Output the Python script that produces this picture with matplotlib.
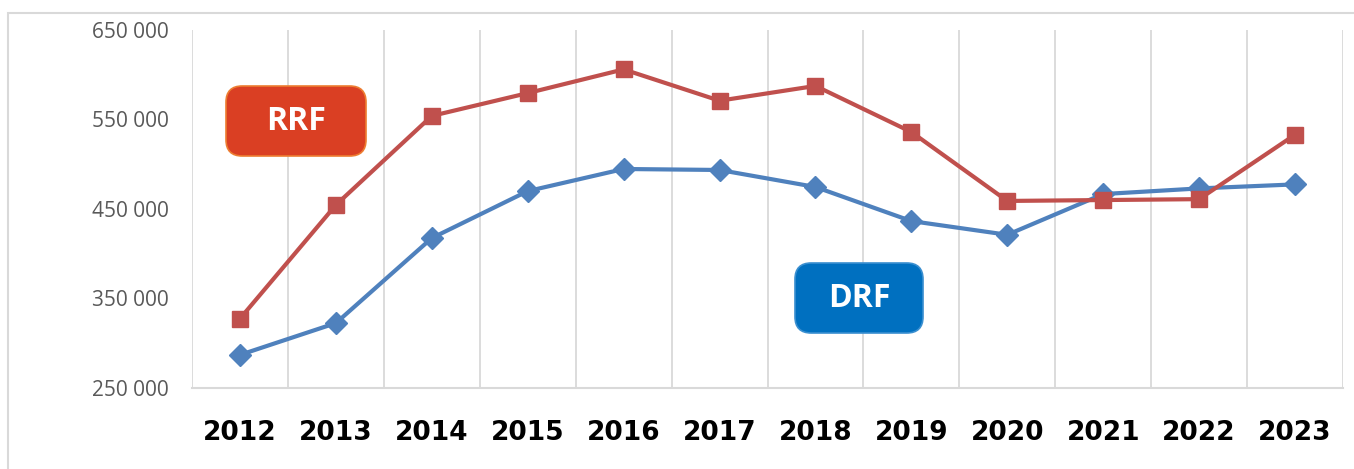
import matplotlib
matplotlib.use("Agg")
import matplotlib.pyplot as plt
from matplotlib.patches import FancyBboxPatch, Rectangle
from matplotlib.ticker import FuncFormatter, FixedLocator

years = ["2012", "2013", "2014", "2015", "2016", "2017", "2018", "2019", "2020", "2021", "2022", "2023"]
rrf = [327500, 454500, 554000, 579500, 606000, 571000, 587500, 536000, 459000, 460000, 461000, 533000]
drf = [287000, 322500, 417500, 470000, 494700, 493600, 474600, 436500, 421200, 466700, 473000, 477500]
yticks = [250000, 350000, 450000, 550000, 650000]

W, H = 1354, 469
fig = plt.figure(figsize=(W / 100, H / 100), dpi=100)

# outer chart frame
fig.patches.append(Rectangle((8 / W, -0.2), 2.0, 1 - 13 / H + 0.2, transform=fig.transFigure,
                             fill=False, edgecolor="#D9D9D9", linewidth=1.5, zorder=0))

ax = fig.add_axes([192 / W, 1 - 388 / H, (1343 - 192) / W, (388 - 30) / H])
x = list(range(len(years)))

ax.plot(x, drf, color="#4F81BD", linewidth=3, marker="D", markersize=11, zorder=3)
ax.plot(x, rrf, color="#C0504D", linewidth=3, marker="s", markersize=12, zorder=4)

ax.set_xlim(-0.5, len(years) - 0.5)
ax.set_ylim(yticks[0], yticks[-1])
ax.set_yticks(yticks)
ax.yaxis.set_major_formatter(FuncFormatter(lambda v, p: f"{int(v):,}".replace(",", " ")))
ax.set_xticks(x)
ax.set_xticklabels(years)
ax.xaxis.set_minor_locator(FixedLocator([i - 0.5 for i in range(len(years) + 1)]))
ax.grid(True, which="minor", axis="x", color="#D9D9D9", linewidth=1.3)
ax.grid(False, which="major")
ax.tick_params(axis="both", which="both", length=0)
ax.tick_params(axis="y", pad=17, labelsize=15, labelcolor="#595959")
ax.tick_params(axis="x", pad=23)
for lbl in ax.get_yticklabels():
    lbl.set_fontfamily("Open Sans")
for lbl in ax.get_xticklabels():
    lbl.set_fontfamily("DejaVu Sans")
    lbl.set_fontweight("bold")
    lbl.set_fontsize(19)
    lbl.set_color("black")

for s in ["top", "right", "left"]:
    ax.spines[s].set_visible(False)
ax.spines["bottom"].set_color("#D9D9D9")
ax.spines["bottom"].set_linewidth(1.5)


def label_box(x0, y0, x1, y1, text, face, edge):
    bx = FancyBboxPatch((x0 / W, 1 - y1 / H), (x1 - x0) / W, (y1 - y0) / H,
                        boxstyle="round,pad=0,rounding_size=0.012",
                        transform=fig.transFigure, facecolor=face, edgecolor=edge,
                        linewidth=1.2, zorder=5, mutation_aspect=W / H)
    fig.patches.append(bx)
    fig.text((x0 + x1) / 2 / W, 1 - (y0 + y1) / 2 / H, text, ha="center", va="center",
             color="white", fontsize=23, fontweight="bold", fontfamily="Open Sans", zorder=6)


label_box(226, 86, 366, 156, "RRF", "#DA3F23", "#ED7D31")
label_box(795, 263, 923, 333, "DRF", "#0070C0", "#3A8FD0")

fig.savefig("out.png", dpi=100)
